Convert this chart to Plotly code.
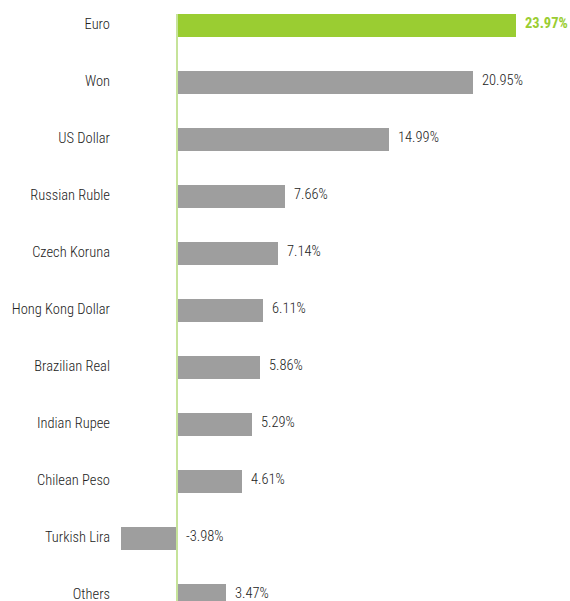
import plotly.graph_objects as go

# Currency contribution data
currencies = ["Euro", "Won", "US Dollar", "Russian Ruble", "Czech Koruna",
              "Hong Kong Dollar", "Brazilian Real", "Indian Rupee",
              "Chilean Peso", "Turkish Lira", "Others"]
values = [23.97, 20.95, 14.99, 7.66, 7.14, 6.11, 5.86, 5.29, 4.61, -3.98, 3.47]
value_labels = ["23.97%", "20.95%", "14.99%", "7.66%", "7.14%", "6.11%",
                "5.86%", "5.29%", "4.61%", "-3.98%", "3.47%"]

GREEN = "#9acd32"
GREY = "#9e9e9e"
LINE_GREEN = "#c6e39a"
TEXT = "#222222"
FONT = "Roboto Condensed, Liberation Sans Narrow, Arial Narrow, Roboto, sans-serif"
FONT_SIZE = 14.5

idx = list(range(len(currencies)))
colors = [GREEN if i == 0 else GREY for i in idx]

fig = go.Figure()
fig.add_trace(go.Bar(
    x=values, y=idx, orientation="h",
    marker=dict(color=colors, line=dict(width=0)),
    width=0.4, hoverinfo="skip",
))

# Zero line running from the top bar downward
fig.add_shape(type="line", x0=0, x1=0, y0=-0.2, y1=11,
              line=dict(color=LINE_GREEN, width=2), layer="above")

# Value labels placed right of the bar end (or right of zero for negatives)
for i, (v, lab) in enumerate(zip(values, value_labels)):
    fig.add_annotation(
        x=max(v, 0), y=i, text=lab, showarrow=False,
        xanchor="left", yanchor="middle", xshift=7, yshift=2,
        font=dict(family=FONT, size=FONT_SIZE,
                  color=GREEN if i == 0 else TEXT,
                  weight="bold" if i == 0 else 300),
    )

px_per_unit = 14.13
x_left = -61 / px_per_unit
x_right = (570 - 177) / px_per_unit

fig.update_layout(
    width=570, height=601,
    margin=dict(l=116, r=0, t=0, b=0, autoexpand=False),
    paper_bgcolor="white", plot_bgcolor="white",
    showlegend=False,
    bargap=0,
    xaxis=dict(range=[x_left, x_right], visible=False, showgrid=False,
               zeroline=False, automargin=False),
    yaxis=dict(range=[10.096, -0.447], tickmode="array", tickvals=idx,
               ticktext=currencies, showgrid=False, zeroline=False,
               showline=False, ticks="", ticklabelstandoff=5,
               ticklabelshift=2,
               ticklabeloverflow="allow", automargin=False,
               tickfont=dict(family=FONT, size=FONT_SIZE, color=TEXT,
                             weight=300)),
)

fig.write_html("out.html")
